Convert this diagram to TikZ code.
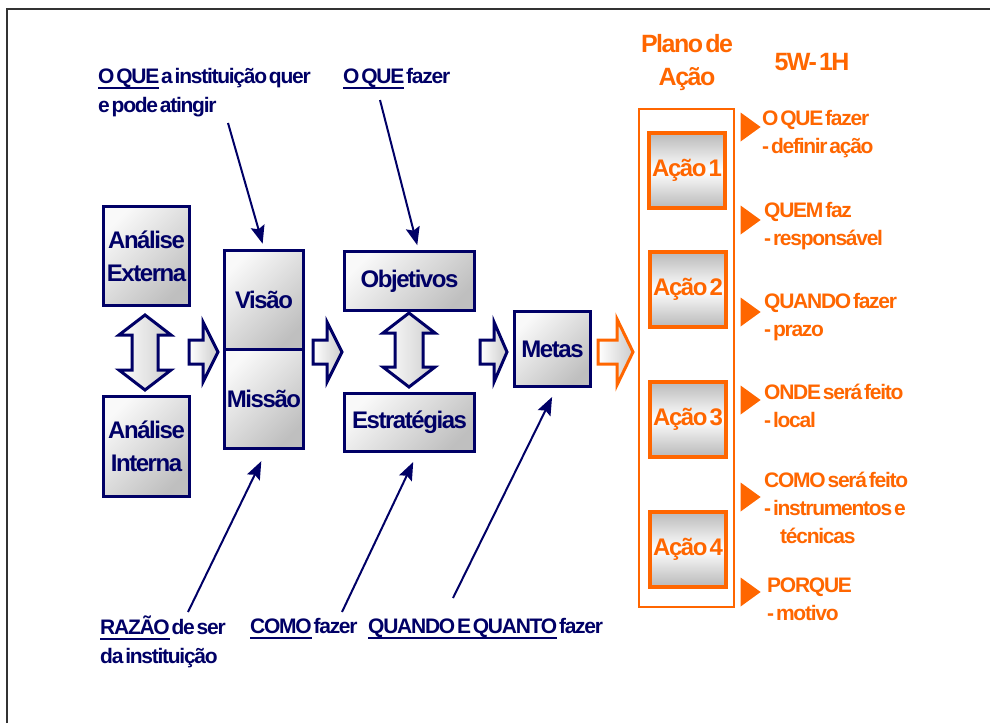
\documentclass[tikz,border=0pt]{standalone}
\usepackage{fontspec}
\setmainfont{Liberation Sans}[LetterSpace=-6,WordSpace=0.4]
\usepackage{tikz}
\usetikzlibrary{arrows,arrows.meta,shapes,shapes.geometric,positioning}
\definecolor{navyind}{RGB}{0,0,102}
\definecolor{orangeact}{RGB}{255,102,0}
\newcommand{\ulword}[1]{\leavevmode\setbox0=\hbox{#1}\rlap{\rule[-6pt]{\wd0}{2pt}}\box0\relax}

\begin{document}
\begin{tikzpicture}[x=1pt,y=-1pt]
          \useasboundingbox (0,0) rectangle (990,723);
          % frame
          \draw[line width=2pt, black!80] (7,723) -- (7,9) -- (990,9);

          \tikzstyle{box}=[draw=navyind, line width=3pt, top color=gray!5, bottom color=gray!50, shading angle=45, text=navyind, inner sep=0pt, align=center, font=\bfseries\fontsize{24}{33}\selectfont]
          \tikzstyle{fat}=[draw=navyind, line width=3pt, left color=white, right color=gray!40]
          \tikzstyle{lbl}=[anchor=base west, align=left, inner sep=0pt, text=navyind, font=\bfseries\fontsize{21}{29}\selectfont]

          % Left part
          \node[box, minimum width=86pt, minimum height=99pt] (ext) at (146.5,256) {Análise\\Externa};
          \node[box, minimum width=86pt, minimum height=100pt] (int) at (146.5,446.5) {Análise\\Interna};
          \node[box, minimum width=79pt, minimum height=99pt] (vis) at (264,299.5) {Visão};
          \node[box, minimum width=79pt, minimum height=99pt] (mis) at (264,398.5) {Missão};
          \node[box, minimum width=130pt, minimum height=59pt] (obj) at (409.5,281) {Objetivos};
          \node[box, minimum width=130pt, minimum height=58pt] (est) at (409.5,422.5) {Estratégias};
          \node[box, minimum width=76pt, minimum height=75pt] (met) at (552.5,349) {Metas};

          % fat arrows
          \draw[fat] (145,315) -- (171,335) -- (158,335) -- (158,370) -- (171,370) -- (145,390) -- (119,370) -- (132,370) -- (132,335) -- (119,335) -- cycle;
          \draw[fat] (409,313) -- (435,333) -- (423,333) -- (423,367) -- (435,367) -- (409,387) -- (383,367) -- (395,367) -- (395,333) -- (383,333) -- cycle;
          \draw[fat] (189,340) -- (203,340) -- (203,322) -- (218,352) -- (203,382) -- (203,364) -- (189,364) -- cycle;
          \draw[fat] (313,340) -- (327,340) -- (327,322) -- (342,352) -- (327,382) -- (327,364) -- (313,364) -- cycle;
          \draw[fat] (480,340) -- (494,340) -- (494,322) -- (507,352) -- (494,382) -- (494,364) -- (480,364) -- cycle;
          \draw[fat, draw=orangeact] (598,340) -- (617,340) -- (617,319) -- (633,352) -- (617,385) -- (617,364) -- (598,364) -- cycle;

          % labels (base = last line)
          \node[lbl] (lvis) at (98,112) {\ulword{O QUE} a instituição quer\\e pode atingir};
          \node[lbl] (lobj) at (343,83) {\ulword{O QUE} fazer};
          \node[lbl] (lmis) at (100,663) {\ulword{RAZÃO} de ser\\da instituição};
          \node[lbl] (lest) at (250,633) {\ulword{COMO} fazer};
          \node[lbl] (lmet) at (368,633) {\ulword{QUANDO E QUANTO} fazer};

          \tikzstyle{every edge}=[draw=navyind, line width=2pt, ->, >={Stealth[length=18pt,width=14pt,inset=3pt]}]
          \coordinate (pvis) at (228,123);
          \coordinate (pobj) at (380,100);
          \coordinate (pmis) at (188,612);
          \coordinate (pest) at (342,612);
          \coordinate (pmet) at (453,598);
          \path (pvis) edge [shorten >=5pt] (vis.north);
          \path (pobj) edge [shorten >=5pt] ([xshift=9pt]obj.north);
          \path (pmis) edge [shorten >=13pt] ([xshift=3pt]mis.south);
          \path (pest) edge [shorten >=10pt] ([xshift=8pt]est.south);
          \path (pmet) edge [shorten >=10pt] ([xshift=4pt]met.south);

          % Plano de acao
          \tikzstyle{act}=[draw=orangeact, line width=4pt, top color=gray!55, bottom color=gray!55, middle color=white, text=orangeact, minimum width=76pt, minimum height=75pt, inner sep=0pt, font=\bfseries\fontsize{24}{28}\selectfont]
          \tikzstyle{wlbl}=[anchor=base west, align=left, inner sep=0pt, text=orangeact, font=\bfseries\fontsize{21}{28}\selectfont]
          \tikzstyle{tri}=[isosceles triangle, isosceles triangle stretches, fill=orangeact, minimum width=29pt, minimum height=20pt, inner sep=0pt]

          \node[text=orangeact, align=center, font=\bfseries\fontsize{25}{33}\selectfont] (tit) at (687,63) {Plano de\\Ação};
          \node[text=orangeact, font=\bfseries\fontsize{25}{28}\selectfont] (wh) at (812,62) {5W- 1H};
          \node[draw=orangeact, line width=2pt, minimum width=95pt, minimum height=498pt] (plano) at (686.5,358) {};
          \node[act] (A1) at (687,170.5) {Ação 1};
          \node[act] (A2) at (688,289.5) {Ação 2};
          \node[act] (A3) at (688,419) {Ação 3};
          \node[act] (A4) at (688,549) {Ação 4};

          \node[tri] (t1) at (748,127) {};
          \node[tri] (t2) at (748,220) {};
          \node[tri] (t3) at (748,312) {};
          \node[tri] (t4) at (748,400) {};
          \node[tri] (t5) at (748,497) {};
          \node[tri] (t6) at (748,592) {};

          \node[wlbl] (w1) at (762,153) {O QUE fazer\\- definir ação};
          \node[wlbl] (w2) at (764,245) {QUEM faz\\- responsável};
          \node[wlbl] (w3) at (764,336) {QUANDO fazer\\- prazo};
          \node[wlbl] (w4) at (764,427) {ONDE será feito\\- local};
          \node[wlbl] (w5) at (764,543) {COMO será feito\\- instrumentos e\\\hspace{16pt}técnicas};
          \node[wlbl] (w6) at (767,620) {PORQUE\\- motivo};
\end{tikzpicture}
\end{document}
